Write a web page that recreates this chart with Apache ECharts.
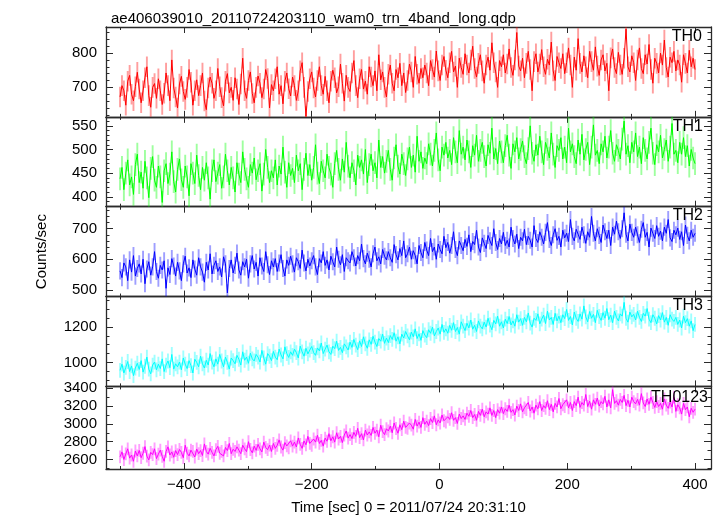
<!DOCTYPE html>
<html><head><meta charset="utf-8">
<script src="https://cdn.jsdelivr.net/npm/echarts@6/dist/echarts.min.js"></script>
<style>html,body{margin:0;padding:0;background:#fff}#c{width:721px;height:516px}</style>
</head><body><div id="c"></div>
<script>
const chartTitle = 'ae406039010_20110724203110_wam0_trn_4band_long.qdp';
const xTitle = 'Time [sec] 0 = 2011/07/24 20:31:10';
const yTitle = 'Counts/sec';
const bandNames = ['TH0', 'TH1', 'TH2', 'TH3', 'TH0123'];
const bandColors = ['#ff0000', '#00ff00', '#0000ff', '#00ffff', '#ff00ff'];
const timeStart = -500, timeStep = 3;

const th0 = [
672,705,690,648,718,735,680,661,702,744,
695,655,690,728,760,676,642,700,711,668,
725,690,650,683,742,705,661,780,698,672,
640,710,732,688,665,700,752,715,648,690,
722,676,705,742,660,635,698,730,712,668,
690,755,702,670,646,718,740,684,700,662,
728,695,650,710,785,690,668,720,745,682,
655,700,733,712,670,695,752,726,640,708,
690,725,760,680,705,652,718,742,696,675,
730,705,662,690,748,772,700,615,688,725,
745,698,672,720,760,705,680,732,690,655,
718,750,728,684,702,768,712,660,735,700,
688,742,778,705,670,725,752,695,718,680,
760,730,705,748,690,795,722,745,700,672,
738,765,712,690,752,728,770,705,742,685,
720,768,745,700,790,738,712,755,728,765,
742,705,778,752,730,806,748,720,765,790,
750,728,772,805,745,762,700,785,758,738,
798,765,742,780,820,755,730,770,795,748,
712,765,788,750,830,772,745,700,778,760,
795,742,768,812,758,735,780,860,762,748,
785,728,770,805,752,690,775,798,745,768,
810,760,738,782,765,832,748,720,790,772,
755,798,740,772,815,765,700,788,750,842,
770,745,792,760,728,805,775,750,818,762,
735,780,795,748,770,690,786,812,758,740,
802,765,738,785,870,760,745,792,772,720,
780,815,755,740,795,768,825,752,712,785,
770,742,800,765,838,758,730,788,772,805,
748,780,765,715,795,770,742,808,760,785,
752];

const th1 = [
438,462,415,450,478,425,442,405,468,490,
430,452,418,475,440,398,460,485,435,420,
465,442,388,455,470,428,448,495,432,410,
458,480,436,420,465,442,402,470,450,428,
488,445,415,462,435,472,440,395,455,478,
432,450,468,418,442,490,455,425,462,440,
410,472,448,430,495,458,438,420,468,450,
482,436,455,470,412,448,500,462,430,455,
440,478,425,465,448,505,452,420,472,445,
460,430,488,455,470,415,458,492,445,468,
435,462,510,450,428,475,455,440,490,462,
448,420,470,498,458,435,480,452,515,465,
440,472,455,425,488,462,478,448,500,430,
468,490,455,472,440,520,462,485,450,475,
498,458,435,482,510,465,448,490,470,445,
480,505,462,488,452,528,475,495,460,482,
470,512,490,465,498,535,478,455,505,488,
515,482,498,468,525,495,472,540,490,505,
478,520,495,462,508,488,530,475,498,515,
485,465,510,492,545,480,502,470,518,495,
472,508,530,488,460,512,495,525,480,500,
518,485,470,502,550,492,475,510,488,528,
495,468,515,500,482,535,490,462,508,498,
525,480,505,472,545,495,512,485,470,520,
490,532,478,500,515,468,505,552,488,498,
470,512,495,528,482,505,540,492,475,510,
498,480,522,560,490,508,472,515,495,535,
485,505,470,525,498,480,515,545,492,468,
510,495,530,482,500,520,475,505,555,490,
498,472,515,490,525,485,508,465,500,482,
470];

const th2 = [
562,540,588,575,530,598,558,612,545,570,
585,552,600,520,568,592,548,575,625,560,
538,580,565,595,505,572,550,602,578,545,
590,562,530,585,610,555,572,540,598,568,
548,605,575,558,525,590,565,618,552,580,
595,560,575,542,608,585,490,570,598,555,
580,620,565,548,592,575,600,538,585,612,
568,590,545,605,578,560,625,582,550,595,
575,602,560,588,615,570,545,598,580,610,
585,558,605,592,570,630,588,562,600,578,
595,612,575,550,602,588,625,580,598,565,
610,592,575,640,600,582,615,560,605,595,
588,625,605,578,612,595,650,602,585,620,
600,575,618,640,595,608,585,632,610,598,
625,605,590,648,615,598,635,612,660,605,
618,640,600,628,612,585,645,622,605,655,
630,612,668,625,640,600,650,632,618,675,
638,655,620,645,690,632,612,660,645,628,
665,642,680,625,658,648,695,640,622,670,
652,635,678,660,645,700,655,632,668,650,
688,645,662,640,705,668,650,682,635,672,
660,698,648,675,662,640,710,668,655,690,
672,650,688,720,665,645,680,700,662,675,
640,695,670,685,658,730,675,660,698,682,
665,705,680,652,690,672,740,685,660,700,
678,655,712,690,668,695,645,705,682,725,
690,668,700,752,682,660,715,688,672,705,
680,655,698,720,672,688,640,702,685,668,
710,675,692,660,705,685,730,670,658,695,
680,702,665,690,645,712,678,660,695,672,
685];

const th3 = [
955,990,940,972,1005,948,980,925,968,995,
960,1010,945,978,1030,962,935,985,1002,958,
990,965,1020,948,985,1008,970,1045,962,992,
975,1002,958,1025,990,965,1010,982,940,1018,
1000,975,1035,992,968,1012,985,1050,1002,975,
1020,990,1045,1008,975,1030,1000,962,1025,1010,
992,1040,1018,985,1060,1012,1030,995,1052,1020,
1008,1045,1030,1002,1068,1025,990,1050,1035,1010,
1062,1030,1015,1075,1042,1020,1088,1050,1028,1060,
1040,1075,1055,1025,1092,1060,1035,1080,1048,1070,
1090,1055,1040,1082,1065,1110,1050,1075,1098,1060,
1045,1092,1078,1120,1068,1085,1055,1105,1088,1070,
1115,1085,1130,1098,1072,1122,1090,1145,1105,1080,
1128,1102,1148,1115,1090,1135,1120,1160,1108,1138,
1112,1152,1130,1168,1120,1145,1105,1160,1138,1175,
1150,1128,1172,1145,1190,1135,1162,1125,1180,1155,
1140,1185,1165,1200,1150,1175,1195,1160,1215,1170,
1190,1165,1210,1182,1225,1175,1198,1160,1230,1205,
1180,1222,1195,1240,1188,1210,1175,1235,1205,1190,
1228,1200,1250,1212,1185,1238,1218,1262,1205,1230,
1195,1245,1220,1260,1212,1235,1205,1270,1228,1248,
1210,1255,1230,1280,1222,1200,1250,1238,1275,1218,
1245,1268,1220,1290,1240,1255,1215,1278,1235,1262,
1225,1270,1248,1300,1238,1260,1212,1285,1250,1232,
1275,1245,1320,1258,1230,1288,1250,1272,1225,1295,
1260,1238,1282,1250,1305,1242,1268,1225,1290,1255,
1235,1275,1262,1340,1250,1228,1285,1258,1272,1240,
1290,1255,1232,1278,1262,1305,1245,1225,1270,1250,
1218,1265,1240,1282,1228,1255,1210,1270,1245,1232,
1255,1215,1240,1195,1262,1225,1248,1205,1235,1180,
1215];

const th0123 = [
2630,2685,2600,2662,2720,2615,2650,2580,2695,2640,
2702,2620,2670,2745,2638,2595,2680,2655,2720,2610,
2660,2705,2635,2580,2690,2742,2650,2685,2625,2700,
2655,2712,2680,2620,2760,2670,2640,2705,2690,2628,
2718,2665,2700,2645,2775,2690,2660,2725,2680,2640,
2710,2748,2670,2692,2640,2735,2700,2780,2665,2715,
2690,2742,2705,2665,2760,2720,2688,2800,2712,2675,
2750,2702,2770,2720,2685,2795,2735,2710,2762,2690,
2780,2725,2760,2820,2740,2705,2790,2752,2730,2810,
2750,2795,2740,2842,2770,2725,2808,2765,2860,2780,
2760,2830,2795,2872,2780,2815,2750,2840,2805,2890,
2810,2855,2795,2900,2830,2860,2790,2875,2920,2840,
2880,2835,2905,2860,2950,2845,2890,2820,2930,2875,
2910,2870,2960,2895,2930,2855,2985,2912,2880,2945,
2920,2975,2900,3010,2948,2895,2990,2935,3030,2960,
2950,3010,2985,2940,3050,2975,3020,2960,3070,2995,
3030,2980,3060,3015,3090,2990,3045,3010,3100,3035,
3020,3080,3050,3125,3040,3070,3005,3110,3060,3090,
3050,3120,3085,3150,3070,3105,3040,3140,3095,3165,
3080,3135,3110,3180,3095,3150,3070,3160,3120,3190,
3115,3170,3140,3210,3130,3160,3100,3200,3150,3225,
3135,3180,3160,3240,3145,3190,3120,3210,3170,3250,
3150,3205,3175,3260,3160,3220,3135,3230,3190,3285,
3170,3215,3195,3270,3180,3240,3150,3250,3205,3300,
3185,3240,3210,3330,3195,3255,3165,3270,3220,3290,
3200,3250,3225,3310,3190,3270,3180,3385,3230,3260,
3210,3275,3240,3320,3205,3265,3190,3300,3250,3225,
3275,3210,3340,3235,3195,3280,3220,3300,3240,3185,
3250,3195,3230,3165,3280,3210,3175,3245,3190,3300,
3140,3215,3180,3110,3230,3160,3190,3080,3175,3130,
3165];

// typical 1-sigma error of a bin, per band (counts/sec)
const bandErrors = [30, 24, 28, 42, 72];

const xMajorTicks = [-400, -200, 0, 200, 400];
const xMinorTicks = [-500, -300, -100, 100, 300];
const th0Ticks = [700, 800];
const th0Minor = [620, 640, 660, 680, 720, 740, 760, 780, 820, 840, 860];
const th1Ticks = [400, 450, 500, 550];
const th1Minor = [380, 390, 410, 420, 430, 440, 460, 470, 480, 490, 510, 520, 530, 540, 560];
const th2Ticks = [500, 600, 700];
const th2Minor = [480, 520, 540, 560, 580, 620, 640, 660, 680, 720, 740, 760];
const th3Ticks = [1000, 1200];
const th3Minor = [900, 950, 1050, 1100, 1150, 1250, 1300, 1350];
const th0123Ticks = [2600, 2800, 3000, 3200, 3400];
const th0123Minor = [2500, 2700, 2900, 3100, 3300];
const yRanges = [[614, 876], [379, 569], [478, 772], [864, 1373], [2493, 3421]];
const xRange = [-522, 425];

const seriesData = [th0, th1, th2, th3, th0123];
const majors = [th0Ticks, th1Ticks, th2Ticks, th3Ticks, th0123Ticks];
const minors = [th0Minor, th1Minor, th2Minor, th3Minor, th0123Minor];

const F = "'Liberation Sans', Arial, Helvetica, sans-serif";
const LC = '#2a2a2a';
const grids = [], xAxes = [], yAxes = [], series = [], graphics = [];
const top0 = 27, ph = 89.85, gl = 106, gw = 605;
const labelRight = [702, 703, 703, 703, 708];
const labelY = [37, 127, 216, 306, 398];
const fmt = v => String(v).replace('-', '\u2212');
const noLine = {show: false, onZero: false};

seriesData.forEach((vals, i) => {
  grids.push({left: gl, width: gw, top: top0 + i * ph, height: ph});
  const last = i === 4;
  const xb = {type: 'value', gridIndex: i, min: xRange[0], max: xRange[1], splitLine: {show: false}};
  const yb = {type: 'value', gridIndex: i, min: yRanges[i][0], max: yRanges[i][1], splitLine: {show: false}};
  const lineOn = {show: true, onZero: false, lineStyle: {color: LC, width: 1.3}};
  const xi = xAxes.length, yi = yAxes.length;
  xAxes.push(Object.assign({}, xb, {position: 'bottom', axisLine: lineOn,
    axisTick: {show: true, inside: true, length: 6, customValues: xMajorTicks, lineStyle: {color: LC}},
    axisLabel: {show: last, customValues: xMajorTicks, formatter: fmt, color: '#000', fontSize: 15, fontFamily: F, margin: 8},
    name: last ? xTitle : '', nameLocation: 'middle', nameGap: 31,
    nameTextStyle: {color: '#000', fontSize: 15, fontFamily: F}}));
  xAxes.push(Object.assign({}, xb, {position: 'bottom', axisLine: noLine,
    axisTick: {show: true, inside: true, length: 3, customValues: xMinorTicks, lineStyle: {color: LC}},
    axisLabel: {show: false}}));
  xAxes.push(Object.assign({}, xb, {position: 'top', axisLine: lineOn,
    axisTick: {show: true, inside: true, length: 6, customValues: xMajorTicks, lineStyle: {color: LC}},
    axisLabel: {show: false}}));
  xAxes.push(Object.assign({}, xb, {position: 'top', axisLine: noLine,
    axisTick: {show: true, inside: true, length: 3, customValues: xMinorTicks, lineStyle: {color: LC}},
    axisLabel: {show: false}}));

  yAxes.push(Object.assign({}, yb, {position: 'left', axisLine: lineOn,
    axisTick: {show: true, inside: true, length: 7, customValues: majors[i], lineStyle: {color: LC}},
    axisLabel: {show: true, customValues: majors[i], formatter: v => String(v), color: '#000', fontSize: 15, fontFamily: F, margin: 9},
    name: i === 2 ? yTitle : '', nameLocation: 'middle', nameGap: 57,
    nameTextStyle: {color: '#000', fontSize: 15, fontFamily: F}}));
  yAxes.push(Object.assign({}, yb, {position: 'left', axisLine: noLine,
    axisTick: {show: true, inside: true, length: 3.5, customValues: minors[i], lineStyle: {color: LC}},
    axisLabel: {show: false}}));
  yAxes.push(Object.assign({}, yb, {position: 'right', axisLine: lineOn,
    axisTick: {show: true, inside: true, length: 7, customValues: majors[i], lineStyle: {color: LC}},
    axisLabel: {show: false}}));
  yAxes.push(Object.assign({}, yb, {position: 'right', axisLine: noLine,
    axisTick: {show: true, inside: true, length: 3.5, customValues: minors[i], lineStyle: {color: LC}},
    axisLabel: {show: false}}));

  const pts = vals.map((v, k) => [timeStart + k * timeStep, v]);
  const err = bandErrors[i], col = bandColors[i];
  series.push({type: 'custom', xAxisIndex: xi, yAxisIndex: yi, data: pts, silent: true, clip: true, z: 1,
    renderItem: (params, api) => {
      const t = api.value(0), v = api.value(1);
      const a = api.coord([t, v - err]), b = api.coord([t, v + err]);
      return {type: 'line', shape: {x1: a[0], y1: a[1], x2: b[0], y2: b[1]},
        style: {stroke: col, lineWidth: 1.9, opacity: 0.38}};
    }});
  series.push({type: 'line', xAxisIndex: xi, yAxisIndex: yi, data: pts, showSymbol: false, symbol: 'none',
    silent: true, clip: true, z: 3,
    lineStyle: {color: col, width: 1}});

  graphics.push({type: 'text', x: labelRight[i], y: labelY[i], z: 10,
    style: {text: bandNames[i], fill: '#000', font: '16px ' + F, textAlign: 'right', textVerticalAlign: 'middle'}});
});

const chart = echarts.init(document.getElementById('c'), null, {renderer: 'canvas'});
chart.setOption({
  animation: false,
  backgroundColor: '#fff',
  title: {text: chartTitle, left: 106, top: 6, textStyle: {color: '#000', fontSize: 15, fontWeight: 'normal', fontFamily: F}},
  grid: grids, xAxis: xAxes, yAxis: yAxes, series: series, graphic: graphics
});
</script></body></html>
